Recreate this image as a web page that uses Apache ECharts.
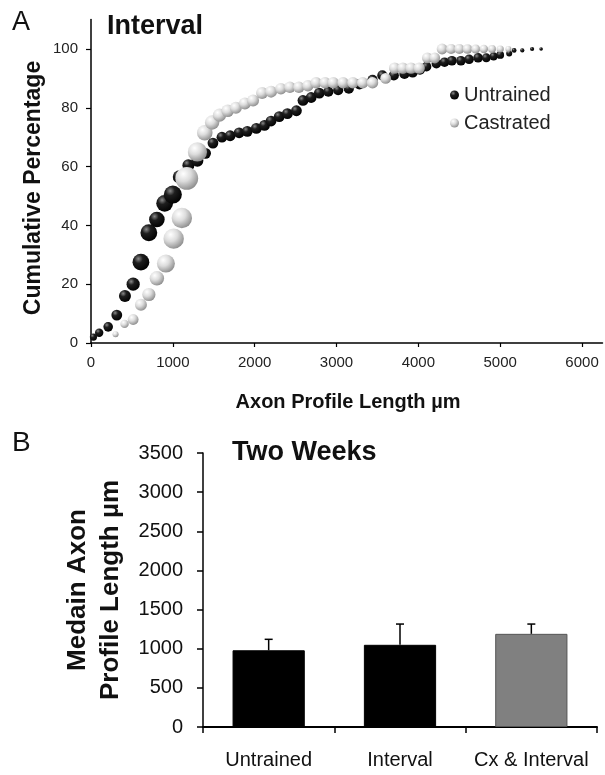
<!DOCTYPE html>
<html><head><meta charset="utf-8">
<script src="https://cdn.jsdelivr.net/npm/echarts@6/dist/echarts.min.js"></script>
<style>html,body{margin:0;padding:0;background:#fff}#c{width:605px;height:775px}</style>
</head><body><div id="c"></div>
<script>
// ---------- Panel A: cumulative distribution (Interval) ----------
// axon profile length (µm), cumulative percentage, relative bin weight (bubble)
const untrainedX = [30,100,210,315,415,515,610,707,805,900,1000,1080,1190,1300,1400,1490,1600,1700,1810,1910,2020,2120,2200,2300,2400,2510,2590,2690,2790,2900,3020,3150,3280,3440,3560,3700,3830,3930,4020,4100,4220,4320,4410,4520,4620,4730,4830,4920,5000,5110,5170,5270,5390,5500];
const untrainedY = [2,3.5,5.5,9.5,16,20,27.5,37.5,42,47.5,50.5,56.5,60.5,62,64.5,68,70,70.5,71.5,72,73,74,75.5,77,78,79,82.5,83.5,85,85.5,86,86.5,88,89.5,91,91,91.5,92,93,94,95,95.5,96,96,96.5,97,97,97.5,98,98.5,99.5,99.5,100,100];
const untrainedW = [6,7,8,9,10,11,14,14,13,14,15,11,10,10,9,9,9,9,9,9,9,9,9,9,9,9,9,9,9,8.5,8.5,8.5,8.5,8.5,8.5,8.5,8.5,8.5,8.5,8,8,8,8,8,8,8,7.5,7,6.5,5,4,3.5,3.5,3];
const castratedX = [300,410,515,610,707,805,915,1010,1110,1170,1300,1390,1480,1570,1670,1770,1880,1980,2090,2200,2320,2430,2540,2650,2750,2860,2960,3080,3200,3320,3440,3600,3710,3810,3910,4010,4110,4200,4290,4400,4500,4600,4700,4800,4900,5000,5100];
const castratedY = [3,6.5,8,13,16.5,22,27,35.5,42.5,56,65,71.5,75,77.5,79,80,81.5,82.5,85,85.5,86.5,87,87,87.5,88.5,88.5,88.5,88.5,88.5,88.5,88.5,90,93.5,93.5,93.5,93.5,97,97,100,100,100,100,100,100,100,100,100];
const castratedW = [5,7,9,10,11,12,15,17,17,19,16,13,12,11,10.5,10,10,10,10,10,9.5,9.5,9.5,9.5,9.5,9.5,9.5,9.5,9.5,9.5,9.5,9,9.5,9.5,9.5,9.5,9,9,9,8.5,8.5,8,7.5,7,6.5,6,5];
const xTicksA = [0,1000,2000,3000,4000,5000,6000];
const yTicksA = [0,20,40,60,80,100];

// ---------- Panel B: median axon profile length (Two Weeks) ----------
const groups = ['Untrained','Interval','Cx & Interval'];
const medians = [980,1050,1190];
const sems = [140,265,125];

const FONT = "'Liberation Sans', Arial, Helvetica, sans-serif";
const BUBBLE_SCALE = 1.2;
const chart = echarts.init(document.getElementById('c'), null, {renderer:'canvas'});

const blackBall = new echarts.graphic.RadialGradient(0.35,0.3,0.75,[
  {offset:0,color:'#8a8a8a'},{offset:0.35,color:'#1e1e1e'},{offset:1,color:'#000'}]);
const lightBall = new echarts.graphic.RadialGradient(0.35,0.3,0.75,[
  {offset:0,color:'#ffffff'},{offset:0.45,color:'#dcdcdc'},{offset:1,color:'#8a8a8a'}]);
const barColors = ['#000000','#000000','#808080'];

const zip3 = (a,b,c) => a.map((v,i)=>[v,b[i],c[i]]);
const plain = (v) => String(v);

const option = {
  animation:false,
  backgroundColor:'#fff',
  textStyle:{fontFamily:FONT},
  grid:[
    {left:91, right:2.5, top:19.6, bottom:432, containLabel:false},
    {left:203, right:8, top:453, bottom:48, containLabel:false}
  ],
  legend:{
    data:['Untrained','Castrated'],
    orient:'vertical', left:445, top:80, itemWidth:9, itemHeight:9, itemGap:8,
    icon:'circle',
    textStyle:{fontSize:20, color:'#222', fontFamily:FONT}
  },
  xAxis:[
    {gridIndex:0, type:'value', min:0, max:6250,
     axisLine:{show:true, lineStyle:{color:'#000', width:1.5}},
     axisTick:{show:true, customValues:xTicksA, length:4, lineStyle:{color:'#000', width:1.2}},
     axisLabel:{customValues:xTicksA, formatter:plain, fontSize:15, color:'#222', margin:12, fontFamily:FONT},
     splitLine:{show:false}},
    {gridIndex:1, type:'category', data:groups,
     axisLine:{show:true, lineStyle:{color:'#000', width:2}},
     axisTick:{show:true, alignWithLabel:false, length:6, lineStyle:{color:'#000', width:1.5}},
     axisLabel:{fontSize:20, color:'#111', margin:23, fontFamily:FONT, interval:0},
     splitLine:{show:false}}
  ],
  yAxis:[
    {gridIndex:0, type:'value', min:0, max:110,
     axisLine:{show:true, lineStyle:{color:'#000', width:1.5}},
     axisTick:{show:true, customValues:yTicksA, length:5, lineStyle:{color:'#000', width:1.2}},
     axisLabel:{customValues:yTicksA, formatter:plain, fontSize:15, color:'#222', margin:13, fontFamily:FONT},
     splitLine:{show:false}},
    {gridIndex:1, type:'value', min:0, max:3500, interval:500,
     axisLine:{show:true, lineStyle:{color:'#000', width:1.5}},
     axisTick:{show:true, length:6, lineStyle:{color:'#000', width:1.5}},
     axisLabel:{formatter:plain, fontSize:20, color:'#111', margin:20, fontFamily:FONT},
     splitLine:{show:false}}
  ],
  series:[
    {name:'Untrained', type:'scatter', xAxisIndex:0, yAxisIndex:0,
     data:zip3(untrainedX, untrainedY, untrainedW),
     symbolSize:(v)=>v[2]*BUBBLE_SCALE,
     itemStyle:{color:blackBall, opacity:1}, z:2},
    {name:'Castrated', type:'scatter', xAxisIndex:0, yAxisIndex:0,
     data:zip3(castratedX, castratedY, castratedW),
     symbolSize:(v)=>v[2]*BUBBLE_SCALE,
     itemStyle:{color:lightBall, opacity:1}, z:3},
    {name:'Median', type:'bar', xAxisIndex:1, yAxisIndex:1, barWidth:'55%',
     data:medians.map((m,i)=>({value:m, itemStyle:{color:barColors[i], borderColor:i===2?'#555':'#000', borderWidth:1}})),
     z:2},
    {name:'SEM', type:'custom', xAxisIndex:1, yAxisIndex:1,
     data:groups.map((g,i)=>[i, medians[i], medians[i]+sems[i]]),
     encode:{x:0, y:[1,2]},
     renderItem:(params, api)=>{
       const x = api.value(0);
       const p0 = api.coord([x, api.value(1)]);
       const p1 = api.coord([x, api.value(2)]);
       const cap = 4;
       return {type:'group', children:[
         {type:'line', shape:{x1:p0[0], y1:p0[1], x2:p1[0], y2:p1[1]}, style:{stroke:'#000', lineWidth:1.5}},
         {type:'line', shape:{x1:p1[0]-cap, y1:p1[1], x2:p1[0]+cap, y2:p1[1]}, style:{stroke:'#000', lineWidth:1.5}}
       ]};
     }, z:5}
  ],
  graphic:[
    {type:'text', x:12, y:23, style:{text:'A', font:'27px '+FONT, fill:'#111', textAlign:'left', textVerticalAlign:'middle'}},
    {type:'text', x:107, y:27, style:{text:'Interval', font:'bold 27px '+FONT, fill:'#111', textAlign:'left', textVerticalAlign:'middle'}},
    {type:'text', x:34, y:188, rotation:Math.PI/2, style:{text:'Cumulative Percentage', font:'bold 23px '+FONT, fill:'#111', textAlign:'center', textVerticalAlign:'middle'}},
    {type:'text', x:348, y:402, style:{text:'Axon Profile Length µm', font:'bold 20px '+FONT, fill:'#111', textAlign:'center', textVerticalAlign:'middle'}},
    {type:'text', x:12, y:443, style:{text:'B', font:'28px '+FONT, fill:'#111', textAlign:'left', textVerticalAlign:'middle'}},
    {type:'text', x:232, y:453, style:{text:'Two Weeks', font:'bold 27px '+FONT, fill:'#111', textAlign:'left', textVerticalAlign:'middle'}},
    {type:'text', x:94.5, y:590, rotation:Math.PI/2, style:{text:'Medain Axon\nProfile Length µm', font:'bold 26px '+FONT, lineHeight:33, fill:'#111', textAlign:'center', textVerticalAlign:'middle'}}
  ]
};
chart.setOption(option);
</script>
</body></html>
